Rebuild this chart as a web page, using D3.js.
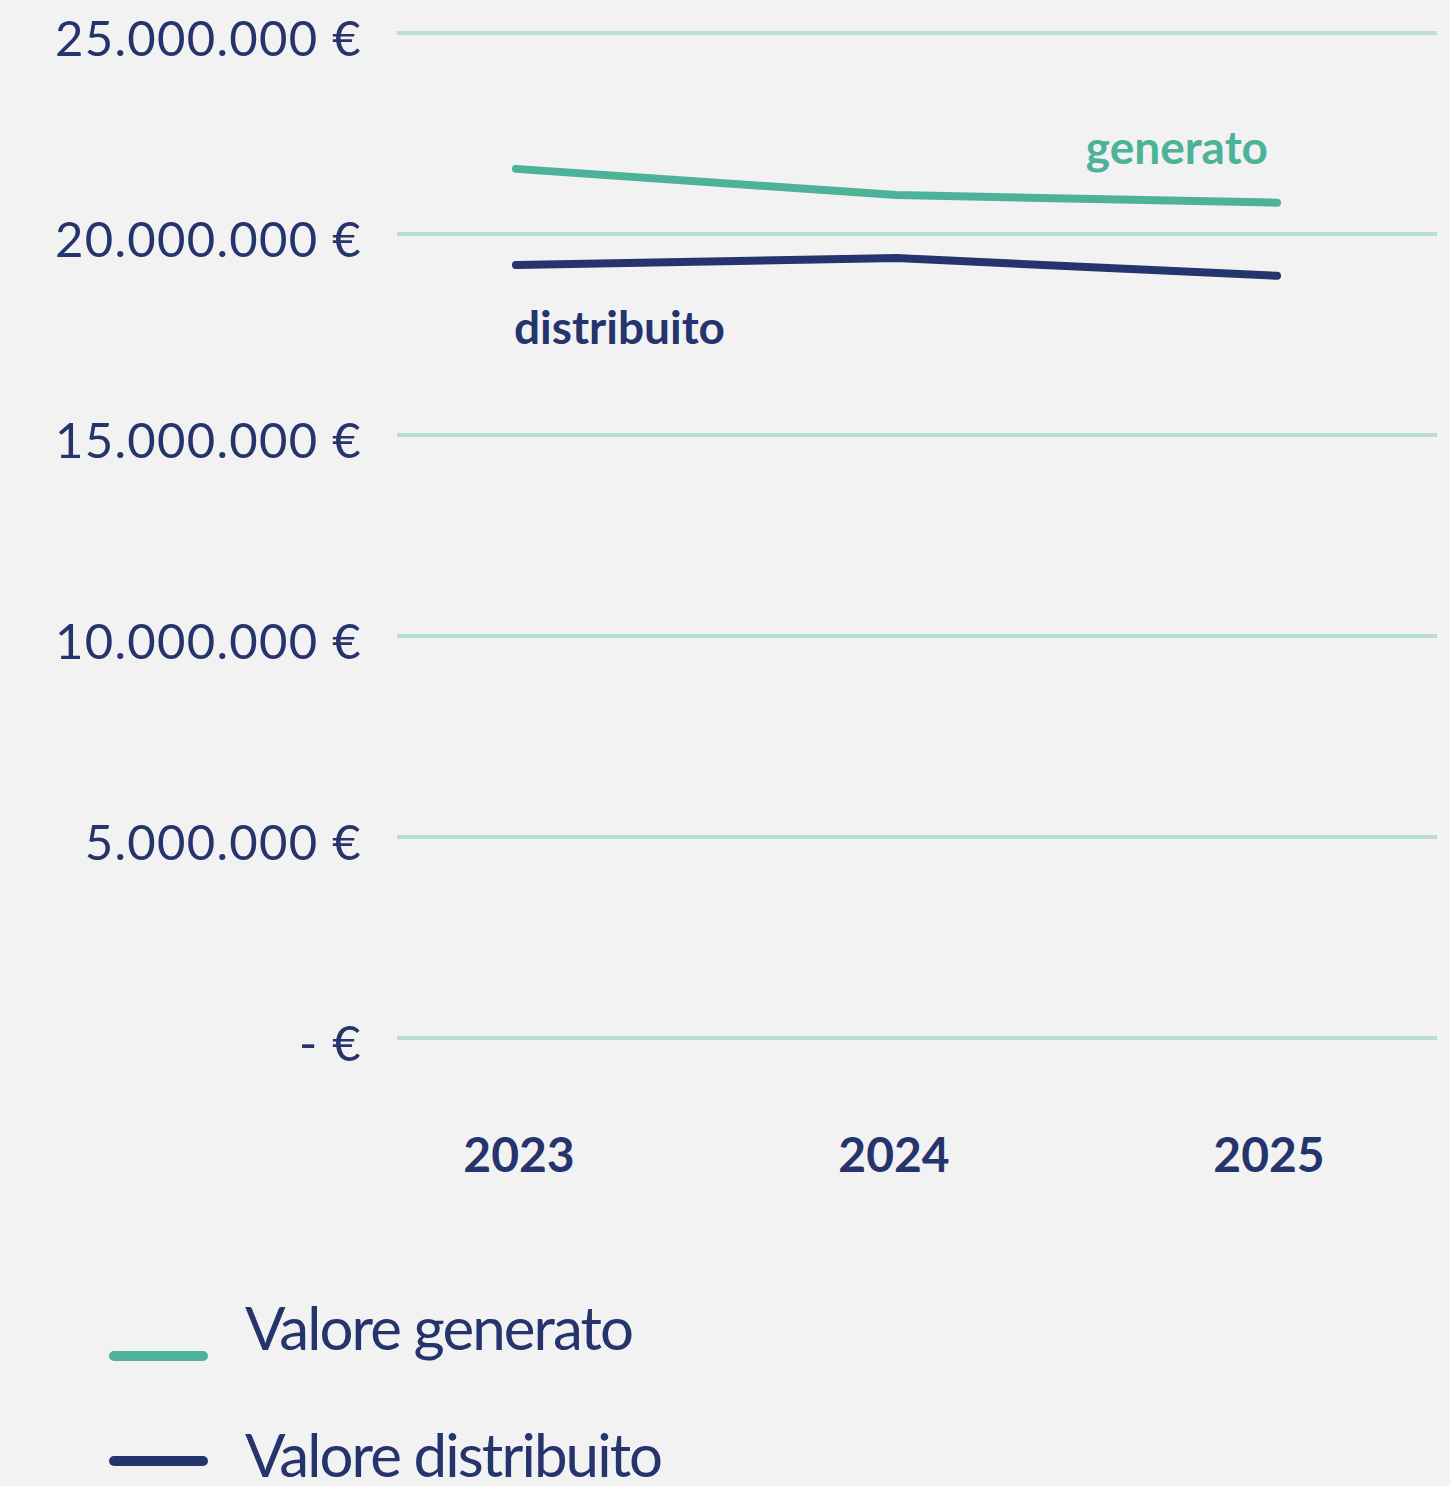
<!DOCTYPE html>
<html><head><meta charset="utf-8">
<script src="https://cdn.jsdelivr.net/npm/d3@7"></script>
<style>
html,body{margin:0;padding:0;background:#f2f2f2;}
svg{display:block;}
text{font-family:Lato,"Open Sans",sans-serif;}
</style></head>
<body>
<svg id="chart" width="1450" height="1486"></svg>
<script>
const years = ["2023","2024","2025"];
const generato = [21620000, 20970000, 20780000];
const distribuito = [19230000, 19400000, 18960000];
const yTicks = [0, 5000000, 10000000, 15000000, 20000000, 25000000];
const tickLabels = ["- €","5.000.000 €","10.000.000 €","15.000.000 €","20.000.000 €","25.000.000 €"];
const seriesNames = ["Valore generato","Valore distribuito"];
const seriesLabels = ["generato","distribuito"];

const navy = "#25346c", teal = "#4cb398", grid = "#b9ded4";
const svg = d3.select("#chart");
svg.append("rect").attr("width",1450).attr("height",1486).attr("fill","#f2f2f2");

const x = d3.scalePoint().domain(years).range([516,1277]);
const xLab = d3.scalePoint().domain(years).range([519,1269]);
const y = d3.scaleLinear().domain([0,25000000]).range([1038,33]);

// gridlines
svg.append("g").selectAll("line").data(yTicks).join("line")
  .attr("x1",397).attr("x2",1437)
  .attr("y1",d=>y(d)).attr("y2",d=>y(d))
  .attr("stroke",grid).attr("stroke-width",4);

// y labels
svg.append("g").selectAll("text").data(yTicks).join("text")
  .attr("x",362).attr("y",d=>y(d)+23)
  .attr("text-anchor","end").attr("fill",navy)
  .attr("font-size",49).attr("letter-spacing",1.3)
  .text((d,i)=>tickLabels[i]);

// x labels
svg.append("g").selectAll("text").data(years).join("text")
  .attr("x",d=>xLab(d)).attr("y",1172)
  .attr("text-anchor","middle").attr("fill",navy)
  .attr("font-size",48).attr("font-weight",700)
  .text(d=>d);

const line = d3.line().x((d,i)=>x(years[i])).y(d=>y(d));
svg.append("path").datum(generato).attr("d",line)
  .attr("fill","none").attr("stroke",teal).attr("stroke-width",8)
  .attr("stroke-linecap","round").attr("stroke-linejoin","round");
svg.append("path").datum(distribuito).attr("d",line)
  .attr("fill","none").attr("stroke",navy).attr("stroke-width",8)
  .attr("stroke-linecap","round").attr("stroke-linejoin","round");

// inline labels
svg.append("text").attr("x",1268).attr("y",164).attr("text-anchor","end")
  .attr("fill",teal).attr("font-size",46).attr("font-weight",700)
  .text(seriesLabels[0]);
svg.append("text").attr("x",514).attr("y",344).attr("text-anchor","start")
  .attr("fill",navy).attr("font-size",46).attr("font-weight",700)
  .text(seriesLabels[1]);

// legend
const lg = svg.append("g");
[teal, navy].forEach((c,i)=>{
  const yy = [1356,1461][i];
  lg.append("line").attr("x1",114).attr("x2",203).attr("y1",yy).attr("y2",yy)
    .attr("stroke",c).attr("stroke-width",10).attr("stroke-linecap","round");
  lg.append("text").attr("x",245).attr("y",[1350,1477][i])
    .attr("fill",navy).attr("font-size",60).attr("letter-spacing",-1.9)
    .text(seriesNames[i]);
});
</script>
</body></html>
